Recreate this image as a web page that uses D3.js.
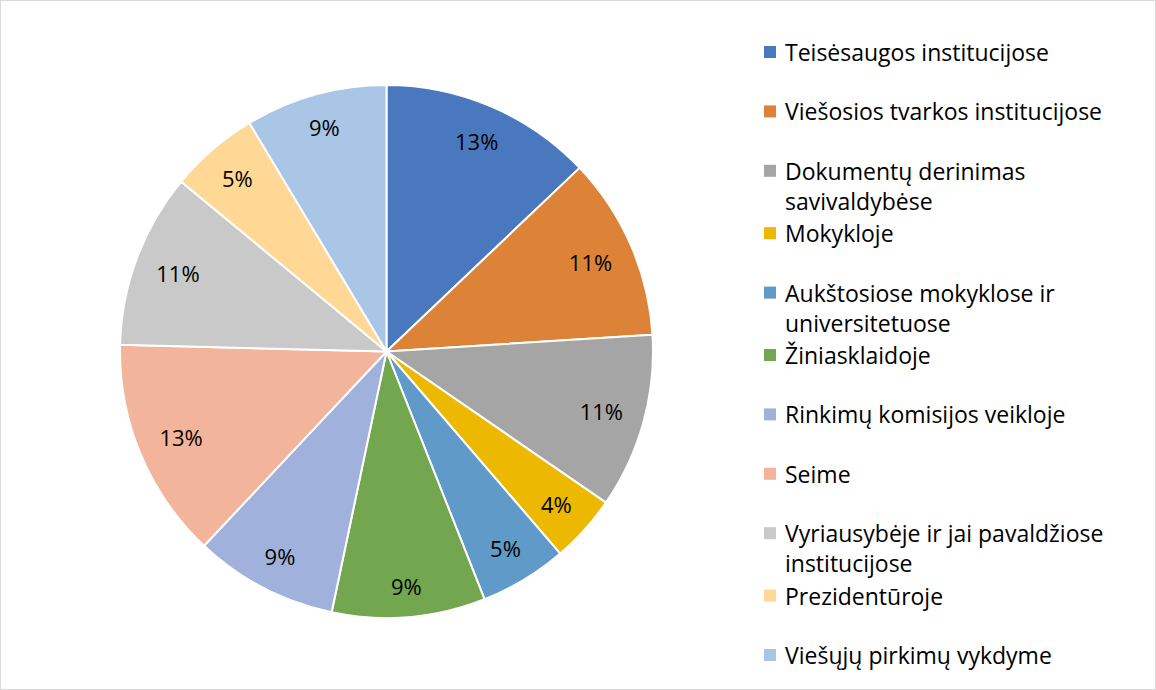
<!DOCTYPE html>
<html>
<head>
<meta charset="utf-8">
<script src="https://cdn.jsdelivr.net/npm/d3@7"></script>
<style>
  html, body { margin: 0; padding: 0; background: #fff; }
  svg { display: block; }
  text { font-family: "Open Sans", "Liberation Sans", Arial, sans-serif; fill: #000; }
</style>
</head>
<body>
<svg id="chart" width="1156" height="690"></svg>
<script>
// ---- data ----
const categories = [
  "Teisėsaugos institucijose",
  "Viešosios tvarkos institucijose",
  "Dokumentų derinimas savivaldybėse",
  "Mokykloje",
  "Aukštosiose mokyklose ir universitetuose",
  "Žiniasklaidoje",
  "Rinkimų komisijos veikloje",
  "Seime",
  "Vyriausybėje ir jai pavaldžiose institucijose",
  "Prezidentūroje",
  "Viešųjų pirkimų vykdyme"
];
// legend lines (wrapped as in the reference)
const legendLines = [
  ["Teisėsaugos institucijose"],
  ["Viešosios tvarkos institucijose"],
  ["Dokumentų derinimas", "savivaldybėse"],
  ["Mokykloje"],
  ["Aukštosiose mokyklose ir", "universitetuose"],
  ["Žiniasklaidoje"],
  ["Rinkimų komisijos veikloje"],
  ["Seime"],
  ["Vyriausybėje ir jai pavaldžiose", "institucijose"],
  ["Prezidentūroje"],
  ["Viešųjų pirkimų vykdyme"]
];
// shares in percent
const values = [12.9, 11.1, 10.6, 4.1, 5.3, 9.3, 8.7, 13.4, 10.6, 5.4, 8.6];
const colors = ["#4A78BE", "#DD8337", "#A5A5A5", "#EDB800", "#5F9AC8", "#73A74F",
                "#A0B2DC", "#F2B49A", "#C9C9C9", "#FFD895", "#A9C6E6"];

// ---- layout ----
const W = 1156, H = 690;
const cx = 386.5, cy = 351.5, R = 266.5;
const svg = d3.select("#chart");

svg.append("rect").attr("x", 0.5).attr("y", 0.5).attr("width", W - 1).attr("height", H - 1)
  .attr("fill", "#fff").attr("stroke", "#d9d9d9").attr("stroke-width", 1);

const total = d3.sum(values);
const pie = d3.pie().sort(null).value(d => d)(values);
const arc = d3.arc().innerRadius(0).outerRadius(R);

const g = svg.append("g").attr("transform", `translate(${cx},${cy})`);
g.selectAll("path.slice").data(pie).join("path")
  .attr("class", "slice")
  .attr("d", arc)
  .attr("fill", (d, i) => colors[i])
  .attr("stroke", "#fff")
  .attr("stroke-width", 2)
  .attr("stroke-linejoin", "round");

const fmt = v => Math.round(v / total * 100) + "%";
const labelFont = 22;
const lbl = g.selectAll("text.lbl").data(pie).join("text")
  .attr("class", "lbl")
  .attr("text-anchor", "middle")
  .attr("dominant-baseline", "central")
  .style("font-size", labelFont + "px")
  .text(d => fmt(d.data));

lbl.each(function(d) {
  const a = (d.startAngle + d.endAngle) / 2;
  const hw = this.getComputedTextLength() / 2, hh = 10;
  const s = Math.sin(a), c = Math.cos(a);
  const r = R - 20 - (Math.abs(s) * hw + Math.abs(c) * hh);
  d3.select(this).attr("x", r * s).attr("y", -r * c);
});

// ---- legend ----
const legX = 764, sq = 12, textX = 785;
const firstY = 52, slot = 59.4, extraLine = 3, lineH = 30;
const legFont = 23;
let extra = 0;
legendLines.forEach((lines, i) => {
  const y0 = firstY + i * slot + extra;
  svg.append("rect").attr("x", legX).attr("y", y0 - sq / 2).attr("width", sq).attr("height", sq)
    .attr("fill", colors[i]);
  lines.forEach((ln, j) => {
    svg.append("text").attr("x", textX).attr("y", y0 + j * lineH)
      .attr("dominant-baseline", "central")
      .style("font-size", legFont + "px")
      .text(ln);
  });
  if (lines.length > 1) extra += extraLine;
});
</script>
</body>
</html>
